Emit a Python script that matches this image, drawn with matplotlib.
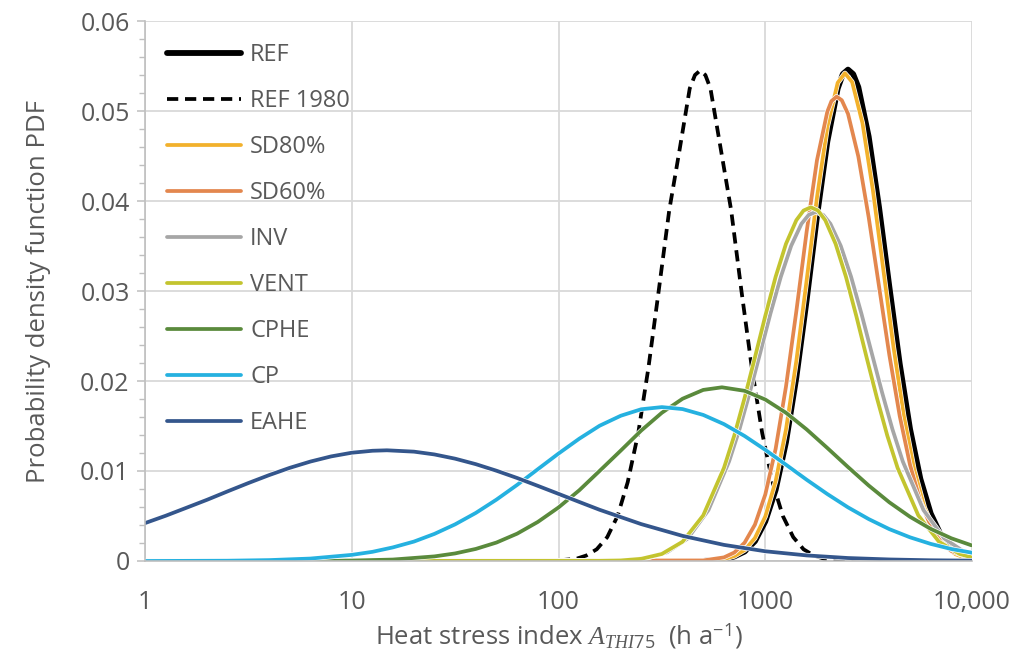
import matplotlib
matplotlib.use('Agg')
import matplotlib.pyplot as plt
import matplotlib.patheffects as pe
from matplotlib.ticker import FixedLocator, FuncFormatter, MultipleLocator

plt.rcParams['font.family'] = ['Open Sans', 'DejaVu Sans']
plt.rcParams['mathtext.fontset'] = 'custom'
plt.rcParams['mathtext.rm'] = 'Open Sans'
plt.rcParams['mathtext.it'] = 'Liberation Serif:italic'

# values (x in h/a, y = PDF)
ref_x = [1, 500, 631, 708, 794, 891, 1000, 1122, 1259, 1413, 1585, 1778, 1995, 2239, 2371,
         2512, 2661, 2818, 3162, 3548, 3981, 4467, 5012, 5623, 6310, 7079, 7943, 8913, 10000]
ref_y = [0, 0, 0.0002, 0.0005, 0.00105, 0.0022, 0.0044, 0.0079, 0.0132, 0.0204, 0.0290, 0.0383,
         0.0466, 0.0525, 0.0541, 0.0546, 0.0541, 0.05265, 0.04716, 0.03931, 0.03046, 0.02191,
         0.01466, 0.00912, 0.00527, 0.00284, 0.00141, 0.00066, 0.00028]

ref1980_x = [1, 97, 122, 136, 153, 172, 193, 216, 243, 272, 305, 343, 385, 431, 457, 484, 513,
             543, 610, 684, 767, 861, 966, 1084, 1216, 1365, 1531, 1718, 1928, 2427, 10000]
ref1980_y = [0, 0.00004, 0.00025, 0.0006, 0.0013, 0.00265, 0.005, 0.00875, 0.01422, 0.02144,
             0.02999, 0.03895, 0.04569, 0.0525, 0.054, 0.0545, 0.054, 0.0525, 0.04569, 0.03895,
             0.02999, 0.02144, 0.01422, 0.00875, 0.005, 0.00265, 0.0013, 0.0006, 0.00025,
             0.00004, 0]

sd80_x = [1, 501, 631, 708, 794, 891, 1000, 1122, 1259, 1413, 1585, 1778, 1995, 2239, 2427,
          2630, 2951, 3311, 3715, 4169, 4677, 5248, 5888, 6607, 7413, 8318, 9333, 10000]
sd80_y = [0, 0.00003, 0.00022, 0.00054, 0.00121, 0.00255, 0.00495, 0.00887, 0.01461, 0.02223,
          0.0312, 0.04039, 0.04824, 0.05314, 0.0542, 0.05322, 0.04866, 0.04127, 0.03252,
          0.02377, 0.01612, 0.01014, 0.00592, 0.00322, 0.00161, 0.00075, 0.00033, 0.00019]

sd60_x = [1, 501, 631, 708, 794, 891, 1000, 1122, 1259, 1413, 1585, 1778, 1995, 2089, 2213,
          2344, 2512, 2818, 3162, 3548, 3981, 4467, 5012, 5623, 6310, 7079, 7943, 10000]
sd60_y = [0, 0.00006, 0.0004, 0.00094, 0.00203, 0.00404, 0.00739, 0.01246, 0.01937, 0.02775,
          0.03661, 0.04453, 0.04992, 0.0511, 0.0516, 0.0512, 0.04969, 0.04495, 0.03821,
          0.03053, 0.02289, 0.01613, 0.01068, 0.00665, 0.00388, 0.00213, 0.0011, 0.00024]

inv_x = [1, 168, 211, 266, 335, 422, 531, 668, 750, 841, 944, 1059, 1189, 1334, 1496, 1622,
         1758, 1905, 2065, 2317, 2600, 2917, 3273, 3673, 4121, 4624, 5821, 7328, 9226, 10000]
inv_y = [0, 0.00002, 0.00009, 0.00032, 0.00097, 0.00251, 0.00566, 0.01106, 0.01463, 0.01871,
         0.02309, 0.02749, 0.03158, 0.03502, 0.03747, 0.03846, 0.0388, 0.03846, 0.03747,
         0.03502, 0.03158, 0.02749, 0.02309, 0.01871, 0.01463, 0.01106, 0.00566, 0.00251,
         0.00097, 0.00067]

vent_x = [1, 158, 200, 251, 316, 398, 501, 631, 708, 794, 891, 1000, 1122, 1259, 1413, 1531,
          1660, 1799, 1950, 2188, 2455, 2754, 3090, 3467, 3890, 4365, 5495, 6918, 8710, 10000]
vent_y = [0, 0.00002, 0.00006, 0.00024, 0.00078, 0.00214, 0.00507, 0.01034, 0.01394, 0.01811,
          0.02262, 0.02724, 0.03158, 0.03524, 0.03787, 0.03894, 0.0393, 0.03894, 0.03787,
          0.03524, 0.03158, 0.02724, 0.02262, 0.01811, 0.01394, 0.01034, 0.00507, 0.00214,
          0.00078, 0.00039]

cphe_x = [1, 6.3, 10, 15.8, 25.1, 31.6, 39.8, 50.1, 63.1, 79.4, 100, 126, 158, 200, 251, 316,
          398, 501, 617, 794, 1000, 1259, 1585, 1995, 2512, 3162, 3981, 5012, 6310, 7943, 10000]
cphe_y = [0, 0.00001, 0.00005, 0.00016, 0.00051, 0.00084, 0.00134, 0.00205, 0.00304, 0.00434,
          0.00595, 0.00786, 0.01001, 0.01227, 0.01449, 0.01647, 0.01803, 0.01901, 0.0193,
          0.01891, 0.01794, 0.01647, 0.01462, 0.01256, 0.01044, 0.00839, 0.00652, 0.00491,
          0.00357, 0.00252, 0.00172]

cp_x = [1, 2.5, 4, 6.3, 10, 12.6, 15.8, 20, 25.1, 31.6, 39.8, 50.1, 63.1, 79.4, 100, 126, 158,
        200, 251, 316, 398, 501, 631, 794, 1000, 1259, 1585, 1995, 2512, 3162, 3981, 5012,
        6310, 7943, 10000]
cp_y = [0, 0.00003, 0.0001, 0.00027, 0.00068, 0.00102, 0.00151, 0.00216, 0.00301, 0.00407,
        0.00534, 0.00682, 0.00846, 0.0102, 0.01194, 0.01359, 0.01503, 0.01614, 0.01686, 0.0171,
        0.01688, 0.01623, 0.01521, 0.01389, 0.01235, 0.0107, 0.00903, 0.00744, 0.00596,
        0.00466, 0.00354, 0.00263, 0.0019, 0.00133, 0.00092]

eahe_x = [1, 1.26, 1.58, 2, 2.51, 3.16, 3.98, 5.01, 6.31, 7.94, 10, 12.6, 14.8, 20, 25.1, 31.6,
          39.8, 50.1, 63.1, 79.4, 100, 126, 158, 200, 251, 398, 631, 1000, 1585, 2512, 3981,
          6310, 10000]
eahe_y = [0.00421, 0.00503, 0.0059, 0.00681, 0.00774, 0.00866, 0.00954, 0.01035, 0.01105,
          0.01162, 0.01203, 0.01225, 0.0123, 0.01215, 0.01184, 0.01137, 0.01076, 0.01003,
          0.00922, 0.00835, 0.00746, 0.00656, 0.00569, 0.00488, 0.0041, 0.00279, 0.00179,
          0.00108, 0.00062, 0.00033, 0.00017, 0.00008, 0.00004]

series = [
    ('REF', ref_x, ref_y, '#000000', 4.2, '-'),
    ('REF 1980', ref1980_x, ref1980_y, '#000000', 2.7, (0, (3.0, 1.8))),
    ('SD80%', sd80_x, sd80_y, '#F2B12C', 2.7, '-'),
    ('SD60%', sd60_x, sd60_y, '#E3874E', 2.7, '-'),
    ('INV', inv_x, inv_y, '#A6A6A6', 2.7, '-'),
    ('VENT', vent_x, vent_y, '#C3C42F', 2.7, '-'),
    ('CPHE', cphe_x, cphe_y, '#5A8A3C', 2.7, '-'),
    ('CP', cp_x, cp_y, '#25B1E0', 2.7, '-'),
    ('EAHE', eahe_x, eahe_y, '#34568C', 2.7, '-'),
]

xticks = [1, 10, 100, 1000, 10000]
xtick_labels = ['1', '10', '100', '1000', '10,000']
txt = '#595959'

fig = plt.figure(figsize=(10.27, 6.53), dpi=100)
ax = fig.add_axes([0.1412, 0.1409, 0.8053, 0.8269])

for name, xs, ys, col, lw, ls in series:
    line, = ax.plot(xs, ys, color=col, lw=lw, linestyle=ls, label=name,
                    solid_capstyle='round', dash_capstyle='butt')
    if name not in ('REF', 'REF 1980'):
        line.set_path_effects([pe.Stroke(linewidth=lw + 1.0, foreground='white'), pe.Normal()])

ax.set_xscale('log')
ax.set_xlim(1, 10000)
ax.set_ylim(0, 0.06)
ax.xaxis.set_major_locator(FixedLocator(xticks))
ax.xaxis.set_minor_locator(FixedLocator([]))
ax.set_xticklabels(xtick_labels)
ax.yaxis.set_major_locator(MultipleLocator(0.01))
ax.yaxis.set_minor_locator(MultipleLocator(0.002))
ax.yaxis.set_major_formatter(FuncFormatter(lambda v, p: '0' if abs(v) < 1e-9 else f'{v:.2f}'))

ax.grid(True, which='major', color='#D9D9D9', lw=1.3)
ax.set_axisbelow(True)
for s in ('top', 'right'):
    ax.spines[s].set_visible(False)
for s in ('left', 'bottom'):
    ax.spines[s].set_color('#BFBFBF')
    ax.spines[s].set_linewidth(1.2)

ax.tick_params(axis='x', which='both', length=0, pad=21, labelsize=18, labelcolor=txt)
ax.tick_params(axis='y', which='major', length=6, width=1.1, color='#BFBFBF', pad=5,
               labelsize=18, labelcolor=txt)
ax.tick_params(axis='y', which='minor', length=4, width=1.0, color='#BFBFBF')

ax.set_ylabel('Probability density function PDF', fontsize=18.5, color=txt, labelpad=21)
ax.set_xlabel(r'Heat stress index $\mathit{A}_{\mathit{THI75}}$  (h a$^{-1}$)',
              fontsize=18.5, color=txt, labelpad=4)

leg = ax.legend(loc='upper left', frameon=False, fontsize=17, handlelength=3.1,
                handletextpad=0.4, labelspacing=0.93, borderaxespad=0.55,
                bbox_to_anchor=(0.0, 1.0))
for t in leg.get_texts():
    t.set_color(txt)

fig.savefig('out.png', dpi=100, facecolor='white')
